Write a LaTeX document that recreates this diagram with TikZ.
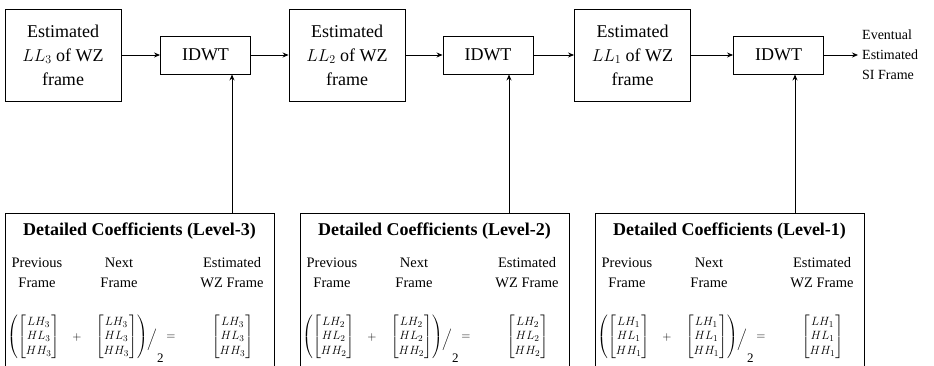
\documentclass[tikz,border=0pt]{standalone}
\usepackage{amsmath}
\usepackage{fontspec}
\setmainfont{Liberation Serif}
\usetikzlibrary{arrows.meta}
\tikzset{
  bigbox/.style={draw, line width=0.9pt, minimum width=116pt, minimum height=92pt, inner sep=0pt, align=center, font=\fontsize{18}{24}\selectfont},
  idwtbox/.style={draw, line width=0.9pt, minimum width=90pt, minimum height=38pt, inner sep=0pt, font=\fontsize{18}{22}\selectfont},
  arr/.style={-{Stealth[length=6pt,width=5pt]}, line width=0.8pt},
  frameline/.style={line width=1pt},
  titletext/.style={inner sep=0pt, font=\fontsize{18}{22}\selectfont\bfseries},
  lbl/.style={inner sep=0pt, align=center, font=\fontsize{14.5}{20}\selectfont},
  outlbl/.style={inner sep=0pt, align=left, font=\fontsize{14}{20}\selectfont},
  mth/.style={inner sep=0pt, font=\fontsize{13}{14.6}\selectfont}
}
\begin{document}
\begin{tikzpicture}[x=1pt,y=-1pt]
\useasboundingbox (0,0) rectangle (934,365);
% top row
\node[bigbox] (b1) at (63,55) {Estimated\\$LL_3$ of WZ\\frame};
\node[idwtbox] (i1) at (205.5,55) {IDWT};
\node[bigbox] (b2) at (347,55) {Estimated\\$LL_2$ of WZ\\frame};
\node[idwtbox] (i2) at (488,55) {IDWT};
\node[bigbox] (b3) at (632.5,55) {Estimated\\$LL_1$ of WZ\\frame};
\node[idwtbox] (i3) at (778.5,55) {IDWT};
\node[outlbl, anchor=west] (out) at (862,55) {Eventual\\Estimated\\SI Frame};
\draw[arr] (b1.east) -- (i1.west);
\draw[arr] (i1.east) -- (b2.west);
\draw[arr] (b2.east) -- (i2.west);
\draw[arr] (i2.east) -- (b3.west);
\draw[arr] (b3.east) -- (i3.west);
\draw[arr, shorten >=4pt] (i3.east) -- (out.west);
% bottom boxes
\foreach \k/\off/\lev/\ax in {1/0/3/232, 2/295/2/509, 3/590/1/795}{
  \coordinate (bl\k) at (\off+5,366);
  \coordinate (tl\k) at (\off+5,213);
  \coordinate (tr\k) at (\off+274,213);
  \coordinate (br\k) at (\off+274,366);
  \draw[frameline] (bl\k) -- (tl\k) -- (tr\k) -- (br\k);
  \node[titletext] (t\k) at (\off+139.5,231) {Detailed Coefficients (Level-\lev)};
  \node[lbl] (p\k) at (\off+37,273) {Previous\\Frame};
  \node[lbl] (n\k) at (\off+119,273) {Next\\Frame};
  \node[lbl] (e\k) at (\off+232,273) {Estimated\\WZ Frame};
  \node[mth] (mp\k) at (\off+34,337) {$\left(\begin{bmatrix}LH_{\lev}\\HL_{\lev}\\HH_{\lev}\end{bmatrix}\right.$};
  \node[mth] (pl\k) at (\off+77,337) {$+$};
  \node[mth] (mn\k) at (\off+121,337) {$\left.\begin{bmatrix}LH_{\lev}\\HL_{\lev}\\HH_{\lev}\end{bmatrix}\right)$};
  \node[mth, anchor=west] (sl\k) at ([xshift=-1pt,yshift=-3pt]mn\k.east) {$\Big/$};
  \node[mth, anchor=west] (two\k) at (sl\k.east |- 0,358) {2};
  \node[mth] (eq\k) at (\off+171,337) {$=$};
  \node[mth] (me\k) at (\off+232.5,337) {$\begin{bmatrix}LH_{\lev}\\HL_{\lev}\\HH_{\lev}\end{bmatrix}$};
  \coordinate (c\k) at (\ax,213);
}
\draw[arr] (c1) -- (c1 |- i1.south);
\draw[arr] (c2) -- (c2 |- i2.south);
\draw[arr] (c3) -- (c3 |- i3.south);
\end{tikzpicture}
\end{document}
